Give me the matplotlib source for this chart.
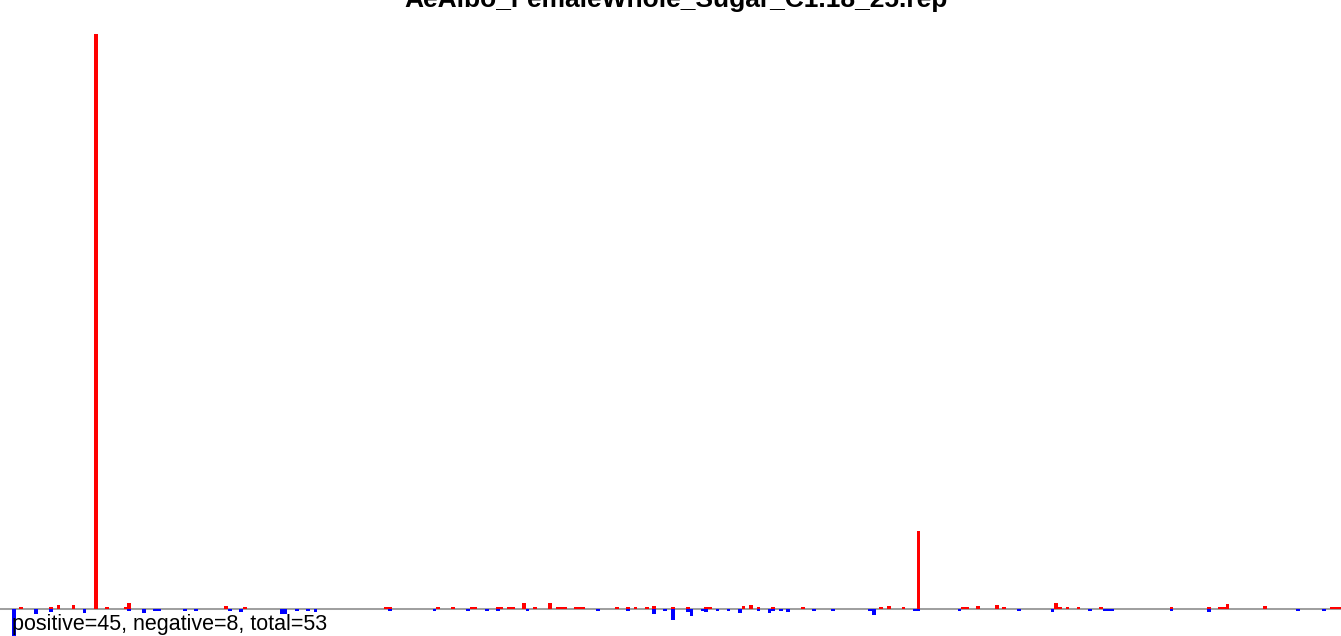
import matplotlib
matplotlib.use("Agg")
import matplotlib.pyplot as plt

title = "AeAlbo_FemaleWhole_Sugar_C1.18_25.rep"
summary = "positive=45, negative=8, total=53"
n_positions = 357

# positive strand signal (position index, value)
pos_index = [2, 10, 12, 16, 22, 25, 30, 31, 57, 62,
             100, 101, 114, 118, 123, 124, 130, 131, 133, 134,
             137, 140, 144, 146, 147, 148, 151, 152, 153, 162,
             165, 167, 170, 172, 177, 181, 186, 187, 196, 198,
             200, 204, 212, 233, 235, 239, 243, 255, 256, 259,
             264, 266, 280, 281, 283, 286, 292, 311, 321, 324,
             325, 326, 336, 354, 355, 356]
pos_value = [2, 2, 4, 4, 575, 2, 2, 6, 3, 2,
             2, 2, 2, 2, 2, 2, 2, 2, 2, 2,
             6, 2, 6, 2, 2, 2, 2, 2, 2, 2,
             2, 2, 2, 3, 2, 2, 2, 2, 3, 4,
             2, 2, 2, 2, 3, 2, 78, 2, 2, 3,
             4, 2, 6, 2, 2, 2, 2, 2, 2, 2,
             2, 5, 3, 2, 2, 2]

# negative strand signal (position index, value)
neg_index = [0, 6, 10, 19, 31, 35, 38, 39, 46, 49,
             58, 61, 72, 73, 76, 79, 81, 101, 113, 122,
             127, 130, 138, 157, 165, 172, 175, 177, 181, 182,
             185, 186, 189, 192, 195, 200, 203, 204, 206, 208,
             215, 220, 230, 231, 242, 243, 254, 270, 279, 289,
             293, 294, 295, 311, 321, 345, 352]
neg_value = [-30, -5, -3, -4, -2, -4, -2, -2, -2, -2,
             -2, -3, -5, -5, -2, -2, -3, -2, -2, -2,
             -2, -2, -2, -2, -2, -5, -2, -11, -3, -7,
             -2, -3, -2, -2, -4, -2, -4, -2, -2, -3,
             -2, -2, -2, -6, -2, -2, -2, -2, -3, -2,
             -2, -2, -2, -2, -3, -2, -2]

W, H = 1341, 636
fig = plt.figure(figsize=(W / 100, H / 100), dpi=100)
ax = fig.add_axes([0, 0, 1, 1])
ax.set_axis_off()

step = (W - 12) / n_positions
ax.set_xlim(-12 / step, n_positions)
ax.set_ylim(-27, 609)

ax.axhline(0, color="#a0a0a0", linewidth=1.45, zorder=1)
ax.bar(pos_index, pos_value, width=1, align="edge", color="#ff0000",
       linewidth=0, antialiased=False, zorder=2)
ax.bar(neg_index, neg_value, width=1, align="edge", color="#0000ff",
       linewidth=0, antialiased=False, zorder=2)

fig.text(676.5 / W, 1 - 7 / H, title, ha="center", va="baseline",
         fontsize=19, fontweight="bold", family="Liberation Sans")
fig.text(12 / W, 6 / H, summary, ha="left", va="baseline",
         fontsize=15.5, family="Liberation Sans")

fig.savefig("out.png", dpi=100)
